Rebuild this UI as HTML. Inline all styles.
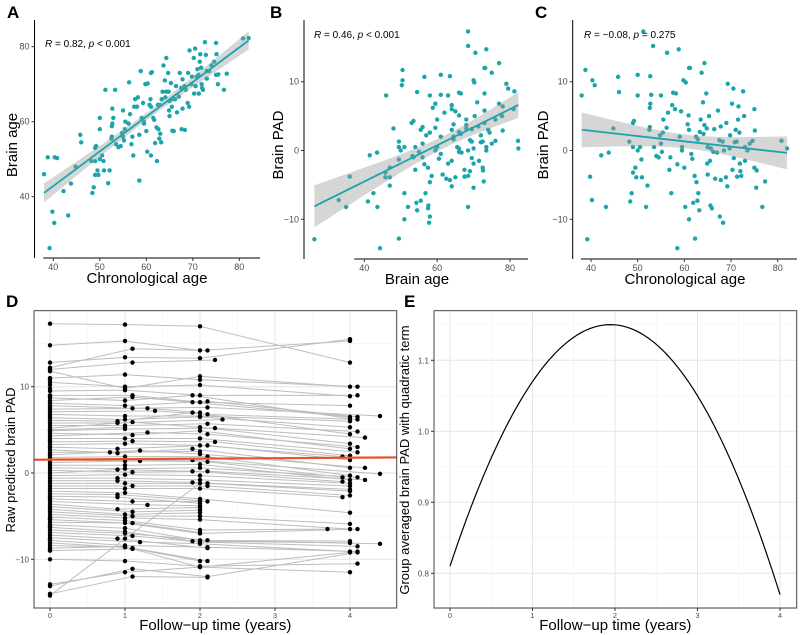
<!DOCTYPE html>
<html><head><meta charset="utf-8">
<style>
html,body{margin:0;padding:0;background:#fff;}
svg{display:block;font-family:"Liberation Sans",Arial,sans-serif;}
</style></head>
<body>
<svg id="fig" width="800" height="635" viewBox="0 0 800 635" xmlns="http://www.w3.org/2000/svg"></svg>
<script>
// ---- Data ----
const chronoAge = [38,38.8,40.3,40.8,39.8,40.2,39.2,43.2,42.2,43.8,44.8,45.8,46,48.2,48.4,48.7,49,49,49,49.2,49.5,49.7,50,50,50,50.5,50.8,50.9,51.2,51.8,52.1,52.5,52.6,52.6,52.7,52.7,52.9,53.3,53.5,54,54.5,54.8,55,55,55.2,55.4,55.5,56.2,56.3,56.5,56.8,57,57.2,57.4,57.6,58,58.2,58.5,58.5,58.8,59,59.3,59.5,59.5,59.8,60,60.2,60.3,60.7,60.9,61,61,61,61.2,61.5,61.7,61.9,62.2,62.3,62.5,62.6,62.8,62.9,63,63.2,63.3,63.5,63.7,64,64.1,64.3,64.3,64.7,64.8,64.9,65,65,65.3,65.5,65.6,65.7,65.9,66.2,66.4,66.6,67,67.2,67.5,67.6,67.8,67.8,68.2,68.3,68.5,68.9,69,69.2,69.3,69.7,69.8,70.2,70.3,70.5,70.6,70.8,71,71.2,71.3,71.5,71.6,71.8,71.9,72,72.2,72.6,72.8,73,73,73.5,74,74.6,75,75,75.1,75.4,75.5,76.7,77.3,80.8,82];
const brainAge = [46,50.5,50.5,50.3,36,33,26.3,35,41.5,43.5,48,56.5,54.5,49.5,41,42.5,45.8,49.5,53,53.5,47,45.8,50,58,61,51,49.5,47,68.5,43.6,47,55.5,56,58.8,59.5,63.5,61,68.5,54,53.2,53.5,57,56,63,55,58,60,59.5,70.5,62,54,56,51,64,66,64,66.5,56.5,44.3,73.5,61,65,60,59.5,70,57.5,52,70.2,64.5,66,73,64,51,73.2,61,60.5,54.3,58.5,49.5,64.5,58,55.5,64.5,56.8,54.5,66,68,75,71,66.5,68,77,73,68,63,61.5,65.5,70.3,64,57.6,66,57.5,66,69.5,62.5,66.7,73,69,58,63.5,71.3,69.5,57.8,68.5,65,73,64,79,70,72,77,67.5,79.5,69.5,72,74,72.5,67.5,76,78,74.4,70,69,68.5,81.2,77.8,73.5,71.5,73.5,75,76,81,72.5,78,70,72.6,68.5,72.8,82.2,82.3];
const brainPAD = brainAge.map((b,i)=>b-chronoAge[i]);
const annotA = ["0.82","< 0.001"], annotB = ["0.46","< 0.001"], annotC = ["\u22120.08","= 0.275"];
const ticksAgeX = [40,50,60,70,80], ticksBrainAgeY = [40,60,80];
const ticksBrainX = [40,60,80], ticksPadY = [-10,0,10];
// longitudinal subjects: "t:v" pairs
const subjects = [
"0:17.3,1:17.2,2:17,4:12.8","0:14.8,1:15.3,2:14.2,4:15.3","0:12.8,1:13.4,2:13.3,4:15.5","0:12.2,1.1:14.4,2.1:14.2","0:12,1.1:12.8,2.2:13.1",
"0:11.8,1:9.8,2:11.2,4:10","0:11,1:11.4,2:10.8,4.1:10","0:10.5,1:10,2:10.2,4:8.9","0:9.5,1:9.6,2:9,4.1:9","0:9,1.1:9,2:8.2,4:7.8",
"0:8.7,1:8.4,1.9:9,4:6.3","0:8.4,1.1:8.8,1.9:8.2,4:6.5","0:8.1,1:7.8,2.1:8.3,4.1:6.5","0:7.8,1.1:7.5,2.1:7.6,4.4:6.6","0:7.4,1.3:7.5,2:7",
"0:7.1,1.4:7.2,2.1:6.8,4.1:6.2","0:6.8,1:6.6,2:6.6,4:6","0:6.4,1:6.2,2:6.5,4:5.3","0:6.1,0.9:6,1.9:7,4:4.5","0:5.8,0.9:5.8,2.3:6.2",
"0:5.5,1:5.5,2.1:5.7,4.1:4.8","0:5.2,1.1:5.9,2:5.3,4:3.4","0:4.9,1:5.1,2.2:5.2,4.2:4.1","0:4.6,1.1:4.4,2:4.9,4:2.8","0:4.3,1.3:4.7,2.1:4.5,4.1:3",
"0:4,1:4,2:4,4.1:2.4","0:3.6,1.1:3.7,2.2:3.6,4:2","0:3.3,1:3.4,2:3.2,3.9:1.9","0:3,0.9:2.8,2.1:3.2,4:1.5","0:2.7,0.9:2.3,1.9:2.8,4:0.6",
"0:2.4,0.8:2.4,2:2.5","0:2.1,1.2:2.6,2:2.2,4.2:0.6","0:1.8,1:1.9,2.1:1.9,4:-0.3","0:1.5,1:1.4,1.9:1.5,4.4:-0.1","0:1.2,1.2:1.4,2.1:1.3,3.9:-0.5",
"0:0.9,1:0.9,2:1,4:-0.8","0:0.6,1:0.5,2:0.6,4.1:-0.5","0:0.3,1.1:0.1,2.1:0.2,4.2:-0.8","0:0,0.9:0.4,1.9:0.2,3.9:-1","0:-0.3,1:-0.2,2:-0.3,4:-1.2",
"0:-0.6,0.9:-0.6,2:-0.8,4:-1.5","0:-0.9,0.9:-0.9,1.9:-1.1,4:-1.9","0:-1.2,1:-1.2,2.1:-1.2,4:-2.1","0:-1.5,1.1:-1.5,2.1:-1.5,4:-2.6","0:-1.8,1:-1.8,2:-1.8,3.9:-2.8",
"0:-2.1,1:-2.3,2:-3,4:-4.6","0:-2.4,0.9:-2.5,2:-3.2","0:-2.7,0.9:-2.8,2:-3.5","0:-3,1.1:-3.3,2.1:-3.3","0:-3.3,1.3:-3.7,2:-3.8",
"0:-3.6,0.9:-4.2,2:-4","0:-3.9,1.1:-4.5,2:-4.3","0:-4.2,1:-4.8,2:-4.6","0:-4.5,1.1:-5,2:-5,4:-5.9","0:-4.8,1:-5.2,2:-5.4,4:-6.5",
"0:-5.1,1:-5.5,2:-6.6,3.7:-6.5","0:-5.4,1:-5.8,2:-7,4.1:-6.5","0:-5.7,1.1:-5.8,2:-6.9","0:-6,1:-6.4,2:-7.8,4:-7.9","0:-6.3,1:-6.8,1.9:-7.9,4:-8.1",
"0:-6.6,1:-7,2.1:-7.8,4.4:-8.2","0:-6.9,1.1:-7.3,2:-8,4.1:-8.5","0:-7.2,0.9:-7.6,2.1:-8.7","0:-7.5,1.2:-8,2:-8.2,4:-9.1","0:-7.8,1:-8.4,2.1:-8.6,4.1:-9.1",
"0:-8.1,1.1:-8.7,2.1:-10.2","0:-8.4,1:-8.6,2:-10.2","0:-8.7,1:-8.5","0:-9,1.1:-8.8,2:-10.9,4:-11.5","0:-10,1:-10.2,2:-10.8,4.1:-10.5",
"0:-12.9,1:-11.5,2:-10.9,4:-9.2","0:-13.1,1.1:-11.1,2.1:-12,4.1:-9.2","0:-14,1.1:-12,2.1:-12.1","0:-14.2,1:-7.6,2:-1.2",
"0:10.2","0:10.8","0:9.8","0:8.9","0:7.6","0:6.6","0:5,1:5.3","0:3.8","0:2.2","0:-2.9","0:-4","0:-5.3","0:-6.2","0:-7.7","0:-8.9"
];
const groupLine = [1.55, 0.055]; // intercept, slope
const ticksTimeX = [0,1,2,3,4], ticksRawY = [-10,0,10];
const quadCoef = [0.81, 0.35, -0.09];
const ticksQuadY = [0.8,0.9,1.0,1.1];

// ---- helpers ----
const NS="http://www.w3.org/2000/svg";
const svg=document.getElementById('fig');
function mk(tag,attrs,parent){const e=document.createElementNS(NS,tag);for(const k in attrs)e.setAttribute(k,attrs[k]);(parent||svg).appendChild(e);return e;}
function lin(d0,d1,r0,r1){return v=>r0+(v-d0)*(r1-r0)/(d1-d0);}
function txt(p,x,y,s,size,opts){const t=mk('text',Object.assign({x:x,y:y,'font-size':size,fill:'#000'},opts||{}),p);t.textContent=s;return t;}
function ols(xs,ys){const n=xs.length;const mx=xs.reduce((a,b)=>a+b,0)/n,my=ys.reduce((a,b)=>a+b,0)/n;let sxx=0,sxy=0;for(let i=0;i<n;i++){sxx+=(xs[i]-mx)**2;sxy+=(xs[i]-mx)*(ys[i]-my);}const b=sxy/sxx,a=my-b*mx;let sse=0;for(let i=0;i<n;i++)sse+=(ys[i]-a-b*xs[i])**2;const s=Math.sqrt(sse/(n-2));return {a,b,mx,sxx,s,n};}

function scatterPanel(o){
  const g=mk('g',{});
  
  
  const X=lin(o.xd[0],o.xd[1],o.xr[0],o.xr[1]), Y=lin(o.yd[0],o.yd[1],o.yr[0],o.yr[1]);
  const fit=ols(o.xs,o.ys);
  const x0=Math.min(...o.xs), x1=Math.max(...o.xs);
  let up=[],dn=[];
  for(let k=0;k<=40;k++){const x=x0+(x1-x0)*k/40;const yh=fit.a+fit.b*x;const se=1.976*fit.s*Math.sqrt(1/fit.n+(x-fit.mx)**2/fit.sxx);up.push(X(x)+','+Y(yh+se));dn.unshift(X(x)+','+Y(yh-se));}
  o.xs.forEach((v,i)=>{const c=mk('circle',{cx:X(v),cy:Y(o.ys[i]),r:2.2,fill:'#1aa5ab'},g);
    
    });
  const band=mk('polygon',{points:up.concat(dn).join(' '),fill:'#999',opacity:0.4},g);
  
  
  const ln=mk('line',{x1:X(x0),y1:Y(fit.a+fit.b*x0),x2:X(x1),y2:Y(fit.a+fit.b*x1),stroke:'#1aa5ab','stroke-width':1.8},g);
  
  
  // axes
  mk('line',{x1:o.xr[0]-10,y1:o.axisY,x2:o.right,y2:o.axisY,stroke:'#000','stroke-width':1},g);
  mk('line',{x1:o.axisX,y1:o.top,x2:o.axisX,y2:o.axisY,stroke:'#000','stroke-width':1},g);
  o.xt.forEach(v=>{mk('line',{x1:X(v),y1:o.axisY,x2:X(v),y2:o.axisY+3,stroke:'#333'},g);txt(g,X(v),o.axisY+12,String(v),9,{fill:'#4d4d4d','text-anchor':'middle'});});
  o.yt.forEach(v=>{mk('line',{x1:o.axisX-3,y1:Y(v),x2:o.axisX,y2:Y(v),stroke:'#333'},g);txt(g,o.axisX-5,Y(v)+3,v<0?'\u2212'+(-v):String(v),9,{fill:'#4d4d4d','text-anchor':'end'});});
  const xt=txt(g,o.xtitle[1],o.axisY+25,o.xtitle[0],15,{'text-anchor':'middle'});
  
  const yt=txt(g,0,0,o.ytitle[0],15,{'text-anchor':'middle',transform:`translate(${o.ytitle[1]},${o.ytitle[2]}) rotate(-90)`});
  
  const an=mk('text',{x:o.ann[2],y:o.ann[3],'font-size':10,fill:'#000'},g);
  
  an.innerHTML=`<tspan font-style="italic">R</tspan> = ${o.ann[0]}, <tspan font-style="italic">p</tspan> ${o.ann[1]}`;
  const lt=txt(g,o.letter[1],18,o.letter[0],17,{'font-weight':'bold'});
  
}

scatterPanel({name:'panel-a',xs:chronoAge,ys:brainAge,xd:[40,80],xr:[53.3,239.3],yd:[40,80],yr:[196.7,46.7],axisX:34.5,axisY:258,top:20,right:260,xt:ticksAgeX,yt:ticksBrainAgeY,xtitle:['Chronological age',147],ytitle:['Brain age',17,145],ann:[annotA[0],annotA[1],45,47],letter:['A',7]});
scatterPanel({name:'panel-b',xs:brainAge,ys:brainPAD,xd:[40,80],xr:[364.3,510],yd:[-10,10],yr:[219.3,81.7],axisX:304,axisY:259,top:20,right:528,xt:ticksBrainX,yt:ticksPadY,xtitle:['Brain age',417],ytitle:['Brain PAD',283,145],ann:[annotB[0],annotB[1],314,38],letter:['B',270]});
scatterPanel({name:'panel-c',xs:chronoAge,ys:brainPAD,xd:[40,80],xr:[591,777.7],yd:[-10,10],yr:[219.3,81.7],axisX:572.7,axisY:259,top:20,right:797,xt:ticksAgeX,yt:ticksPadY,xtitle:['Chronological age',685],ytitle:['Brain PAD',548,145],ann:[annotC[0],annotC[1],584,38],letter:['C',535]});

function boxPanel(o){
  const g=mk('g',{});
  
  
  const X=lin(o.xd[0],o.xd[1],o.xr[0],o.xr[1]),Y=lin(o.yd[0],o.yd[1],o.yr[0],o.yr[1]);
  const B=o.box;
  o.xminor.forEach(v=>mk('line',{x1:X(v),y1:B[1],x2:X(v),y2:B[3],stroke:'#f3f3f3','stroke-width':0.6},g));
  o.yminor.forEach(v=>mk('line',{x1:B[0],y1:Y(v),x2:B[2],y2:Y(v),stroke:'#f3f3f3','stroke-width':0.6},g));
  o.xt.forEach(v=>mk('line',{x1:X(v),y1:B[1],x2:X(v),y2:B[3],stroke:'#e6e6e6','stroke-width':1},g));
  o.yt.forEach(v=>mk('line',{x1:B[0],y1:Y(v),x2:B[2],y2:Y(v),stroke:'#e6e6e6','stroke-width':1},g));
  o.draw(g,X,Y);
  mk('rect',{x:B[0],y:B[1],width:B[2]-B[0],height:B[3]-B[1],fill:'none',stroke:'#444','stroke-width':1},g);
  o.xt.forEach(v=>{mk('line',{x1:X(v),y1:B[3],x2:X(v),y2:B[3]+3,stroke:'#333'},g);txt(g,X(v),B[3]+10,String(v),7.5,{fill:'#4d4d4d','text-anchor':'middle'});});
  o.yt.forEach(v=>{mk('line',{x1:B[0]-3,y1:Y(v),x2:B[0],y2:Y(v),stroke:'#333'},g);txt(g,B[0]-5,Y(v)+3,v<0?'\u2212'+(-v):o.yfmt(v),8,{fill:'#4d4d4d','text-anchor':'end'});});
  const xt=txt(g,(B[0]+B[2])/2,630,'Follow\u2212up time (years)',15,{'text-anchor':'middle'});
  
  const yt=txt(g,0,0,o.ytitle[0],o.ytitle[3],{'text-anchor':'middle',transform:`translate(${o.ytitle[1]},${o.ytitle[2]}) rotate(-90)`});
  
  const lt=txt(g,o.letter[1],307,o.letter[0],17,{'font-weight':'bold'});
  
}

boxPanel({name:'panel-d',xd:[0,4],xr:[50,350],yd:[-10,10],yr:[559.3,386.7],box:[34,310.7,396.7,608],xt:ticksTimeX,yt:ticksRawY,xminor:[0.5,1.5,2.5,3.5],yminor:[-15,-5,5,15],yfmt:v=>String(v),ytitle:['Raw predicted brain PAD',15,460,13],letter:['D',6],
 draw:(g,X,Y)=>{
  const parsed=subjects.map(s=>s.split(',').map(p=>p.split(':').map(Number)));
  parsed.forEach(pts=>{if(pts.length>1){const pl=mk('polyline',{points:pts.map(p=>X(p[0])+','+Y(p[1])).join(' '),fill:'none',stroke:'#bdbdbd','stroke-width':1},g);
    
    }});
  parsed.forEach(pts=>pts.forEach(p=>{const c=mk('circle',{cx:X(p[0]),cy:Y(p[1]),r:2.2,fill:'#000'},g);
    
    }));
  const tl=-0.213,tr=4.62;
  const rl=mk('line',{x1:X(tl),y1:Y(groupLine[0]+groupLine[1]*tl),x2:X(tr),y2:Y(groupLine[0]+groupLine[1]*tr),stroke:'#e8542a','stroke-width':2.2},g);
  
  
 }});

boxPanel({name:'panel-e',xd:[0,4],xr:[450,780],yd:[0.8,1.1],yr:[573.3,360.3],box:[434,310.7,796.7,608],xt:ticksTimeX,yt:ticksQuadY,xminor:[0.5,1.5,2.5,3.5],yminor:[0.75,0.85,0.95,1.05,1.15],yfmt:v=>v.toFixed(1),ytitle:['Group averaged brain PAD with quadratic term',409,460,13],letter:['E',404],
 draw:(g,X,Y)=>{
  let pts=[];for(let k=0;k<=80;k++){const t=4*k/80;const y=quadCoef[0]+quadCoef[1]*t+quadCoef[2]*t*t;pts.push(X(t)+','+Y(y));}
  const pl=mk('polyline',{points:pts.join(' '),fill:'none',stroke:'#000','stroke-width':1.2},g);
  
  
 }});
</script>
</body></html>
